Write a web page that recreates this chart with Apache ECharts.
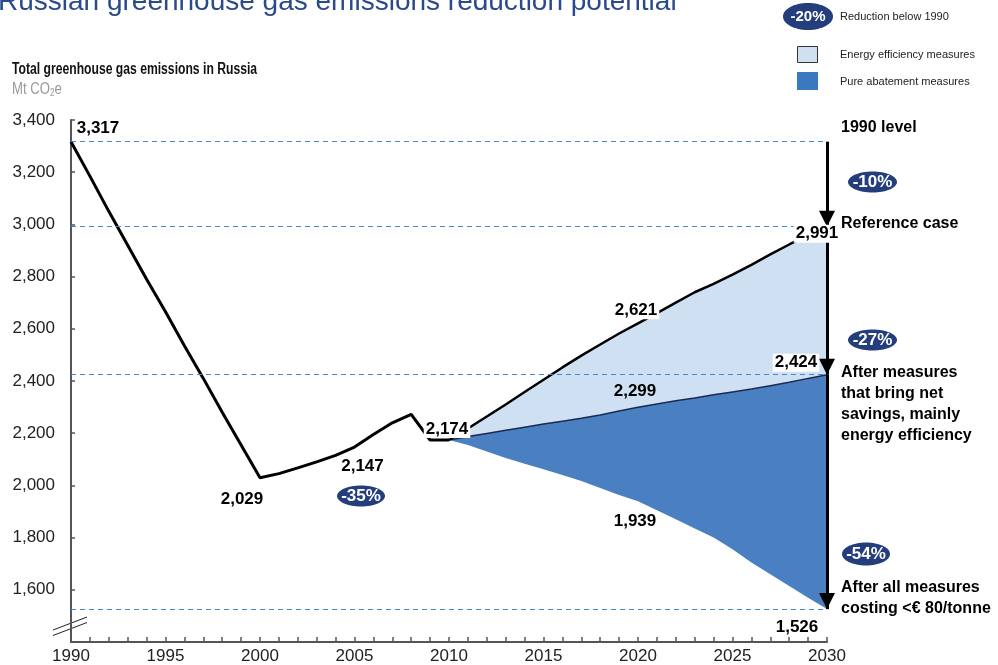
<!DOCTYPE html>
<html>
<head>
<meta charset="utf-8">
<script src="https://cdn.jsdelivr.net/npm/echarts@6/dist/echarts.min.js"></script>
<style>
html,body{margin:0;padding:0;background:#fff}
#chart{width:998px;height:665px}
</style>
</head>
<body>
<div id="chart"></div>
<script>
// Years on the horizontal axis
const years = ['1990','1991','1992','1993','1994','1995','1996','1997','1998','1999',
  '2000','2001','2002','2003','2004','2005','2006','2007','2008','2009',
  '2010','2011','2012','2013','2014','2015','2016','2017','2018','2019',
  '2020','2021','2022','2023','2024','2025','2026','2027','2028','2029','2030'];

// Historical emissions, 1990-2010 (Mt CO2e)
const history = [3317, 3185, 3050, 2920, 2790, 2665, 2535, 2410, 2280, 2155,
  2029, 2045, 2067, 2090, 2115, 2147, 2195, 2240, 2272, 2174, 2174];

// Projections, 2010-2030 (Mt CO2e)
const reference = [2174, 2218, 2264, 2310, 2358, 2405, 2452, 2497, 2540, 2582,
  2621, 2660, 2700, 2740, 2772, 2808, 2845, 2885, 2923, 2958, 2991];
const afterEfficiency = [2174, 2187, 2199, 2211, 2223, 2235, 2246, 2257, 2270, 2285,
  2299, 2312, 2324, 2335, 2347, 2358, 2369, 2382, 2395, 2410, 2424];
const afterAllMeasures = [2174, 2155, 2130, 2105, 2083, 2062, 2040, 2017, 1990, 1963,
  1939, 1905, 1870, 1835, 1800, 1755, 1705, 1660, 1615, 1570, 1526];

const yTicks = [1600, 1800, 2000, 2200, 2400, 2600, 2800, 3000, 3200, 3400];

const FONT = '"Liberation Sans", Arial, Helvetica, sans-serif';
const NAVY = '#243e7d';
const LIGHT = '#cfe0f3';
const DARK = '#4a80c1';
const GUIDE = '#3f87d8';

const histStart = 1990, projStart = 2010;
const padTail = (arr) => arr.concat(new Array(years.length - arr.length).fill(null));
const padHead = (arr) => new Array(years.length - arr.length).fill(null).concat(arr);

const baseBand = padHead(afterAllMeasures);
const abatementBand = padHead(afterEfficiency.map((v, i) => v - afterAllMeasures[i]));
const efficiencyBand = padHead(reference.map((v, i) => v - afterEfficiency[i]));

const fmt = (v) => Number(v).toLocaleString('en-US');
const last = (arr) => arr[arr.length - 1];

function tag(arr, start, year, offset, boxed) {
  const v = arr[year - start];
  return {
    coord: [String(year), v],
    value: v,
    label: {
      offset: offset,
      backgroundColor: boxed ? '#fff' : 'transparent',
      padding: boxed ? [1, 2, 0, 2] : 0
    }
  };
}

function guide(v) {
  return { yAxis: v, lineStyle: { color: GUIDE, width: 1, type: [5, 4], opacity: 1 } };
}

function pill(cx, cy, rx, ry, text, size) {
  return [
    { type: 'ellipse', z: 20, shape: { cx: cx, cy: cy, rx: rx, ry: ry }, style: { fill: NAVY } },
    { type: 'text', z: 21, x: cx, y: cy + 0.5, style: { text: text, fill: '#fff', fontFamily: FONT,
      fontWeight: 'bold', fontSize: size, align: 'center', verticalAlign: 'middle' } }
  ];
}

function note(x, y, text) {
  return { type: 'text', z: 20, x: x, y: y, style: { text: text, fill: '#000', fontFamily: FONT,
    fontWeight: 'bold', fontSize: 16, lineHeight: 21, align: 'left', verticalAlign: 'top' } };
}

const chart = echarts.init(document.getElementById('chart'), null, { renderer: 'canvas' });

chart.setOption({
  animation: false,
  backgroundColor: '#fff',
  textStyle: { fontFamily: FONT },
  grid: { left: 71, right: 171, top: 120, bottom: 23, outerBoundsMode: 'none', containLabel: false },
  xAxis: {
    type: 'category',
    data: years,
    boundaryGap: false,
    axisLine: { show: true, lineStyle: { color: '#555', width: 2 } },
    axisTick: { show: true, inside: true, length: 5, interval: 0, lineStyle: { color: '#555', width: 1.5 } },
    axisLabel: { interval: 4, fontSize: 17, color: '#222', margin: 6, fontFamily: FONT },
    splitLine: { show: false }
  },
  yAxis: {
    type: 'value',
    min: 1400,
    max: 3400,
    interval: 200,
    axisLine: { show: true, lineStyle: { color: '#555', width: 2 } },
    axisTick: { show: true, inside: true, length: 4, lineStyle: { color: '#555', width: 1.5 } },
    axisLabel: {
      fontSize: 17, color: '#222', margin: 16, fontFamily: FONT,
      formatter: (v) => (yTicks.indexOf(v) >= 0 ? fmt(v) : '')
    },
    splitLine: { show: false }
  },
  series: [
    {
      name: 'History',
      type: 'line',
      data: padTail(history),
      symbol: 'none',
      z: 4,
      lineStyle: { color: '#000', width: 3 },
      markLine: {
        silent: true,
        symbol: 'none',
        z: 5,
        label: { show: false },
        lineStyle: { color: GUIDE, width: 1, type: [5, 4] },
        data: [
          guide(history[0]),
          guide(last(reference)),
          guide(last(afterEfficiency)),
          guide(last(afterAllMeasures))
        ]
      }
    },
    {
      name: 'Base',
      type: 'line',
      stack: 'band',
      data: baseBand,
      symbol: 'none',
      silent: true,
      lineStyle: { opacity: 0 }
    },
    {
      name: 'Pure abatement measures',
      type: 'line',
      stack: 'band',
      data: abatementBand,
      symbol: 'none',
      color: DARK,
      areaStyle: { color: DARK, opacity: 1 },
      lineStyle: { color: '#1b2a4e', width: 1.5 }
    },
    {
      name: 'Energy efficiency measures',
      type: 'line',
      stack: 'band',
      data: efficiencyBand,
      symbol: 'none',
      color: LIGHT,
      areaStyle: { color: LIGHT, opacity: 1 },
      lineStyle: { color: '#000', width: 2.5 },
      markLine: {
        silent: true,
        z: 6,
        symbol: ['none', 'triangle'],
        symbolSize: 16,
        symbolOffset: [0, [0, 8]],
        label: { show: false },
        lineStyle: { color: '#000', width: 3, type: 'solid' },
        itemStyle: { color: '#000' },
        data: [
          [{ coord: ['2030', history[0]] }, { coord: ['2030', last(reference)] }],
          [{ coord: ['2030', last(reference)] }, { coord: ['2030', last(afterEfficiency)] }],
          [{ coord: ['2030', last(afterEfficiency)] }, { coord: ['2030', last(afterAllMeasures)] }]
        ]
      },
      markPoint: {
        silent: true,
        z: 10,
        symbol: 'circle',
        symbolSize: 0,
        label: {
          show: true, position: 'inside', color: '#000', fontSize: 17, fontWeight: 'bold',
          fontFamily: FONT, formatter: (p) => fmt(p.value)
        },
        data: [
          tag(history, histStart, 1990, [27, -13], false),
          tag(history, histStart, 2000, [-18, 21], false),
          tag(history, histStart, 2005, [8, 19], false),
          tag(history, histStart, 2010, [-2, -11], true),
          tag(reference, projStart, 2020, [-2, -13], true),
          tag(afterEfficiency, projStart, 2020, [-3, -16], false),
          tag(afterAllMeasures, projStart, 2020, [-3, 20], false),
          tag(reference, projStart, 2030, [-10, 7], true),
          tag(afterEfficiency, projStart, 2030, [-31, -12], true),
          tag(afterAllMeasures, projStart, 2030, [-30, 18], false)
        ]
      }
    }
  ],
  graphic: [
    { type: 'text', x: -2, y: 2, style: { text: 'Russian greenhouse gas emissions reduction potential',
      fill: '#2b4a8b', fontFamily: FONT, fontSize: 28, verticalAlign: 'middle' } },
    { type: 'text', x: 12, y: 70, scaleX: 0.76, style: { text: 'Total greenhouse gas emissions in Russia',
      fill: '#111', fontFamily: FONT, fontSize: 16, fontWeight: 'bold', verticalAlign: 'middle' } },
    { type: 'text', x: 12, y: 90, scaleX: 0.82, style: { text: 'Mt CO{s|2}e', fill: '#999', fontFamily: FONT,
      fontSize: 16, verticalAlign: 'middle', rich: { s: { fontSize: 10, fill: '#999', padding: [7, 0, 0, 0] } } } },

    // legend
    ...pill(808, 16.5, 25, 13.5, '-20%', 15),
    { type: 'text', x: 840, y: 17, style: { text: 'Reduction below 1990', fill: '#222', fontFamily: FONT, fontSize: 11, verticalAlign: 'middle' } },
    { type: 'rect', shape: { x: 797.5, y: 46.5, width: 20, height: 16 }, style: { fill: LIGHT, stroke: '#333', lineWidth: 1 } },
    { type: 'text', x: 840, y: 55, style: { text: 'Energy efficiency measures', fill: '#222', fontFamily: FONT, fontSize: 11, verticalAlign: 'middle' } },
    { type: 'rect', shape: { x: 797, y: 72, width: 21, height: 18 }, style: { fill: '#3a78c0' } },
    { type: 'text', x: 840, y: 82, style: { text: 'Pure abatement measures', fill: '#222', fontFamily: FONT, fontSize: 11, verticalAlign: 'middle' } },

    // reduction markers
    ...pill(872.5, 182, 24.5, 10.5, '-10%', 17),
    ...pill(872.5, 340, 24.5, 10.5, '-27%', 17),
    ...pill(866, 554, 24, 11.5, '-54%', 17),
    ...pill(361, 496, 24, 10.5, '-35%', 17),

    // right-hand notes
    note(841, 117, '1990 level'),
    note(841, 213, 'Reference case'),
    note(841, 362.5, 'After measures\nthat bring net\nsavings, mainly\nenergy efficiency'),
    note(841, 577.5, 'After all measures\ncosting <€ 80/tonne'),

    // axis break mark
    { type: 'line', shape: { x1: 53, y1: 630, x2: 87, y2: 617 }, style: { stroke: '#222', lineWidth: 1 } },
    { type: 'line', shape: { x1: 53, y1: 635.5, x2: 87, y2: 622.5 }, style: { stroke: '#222', lineWidth: 1 } }
  ]
});
</script>
</body>
</html>
